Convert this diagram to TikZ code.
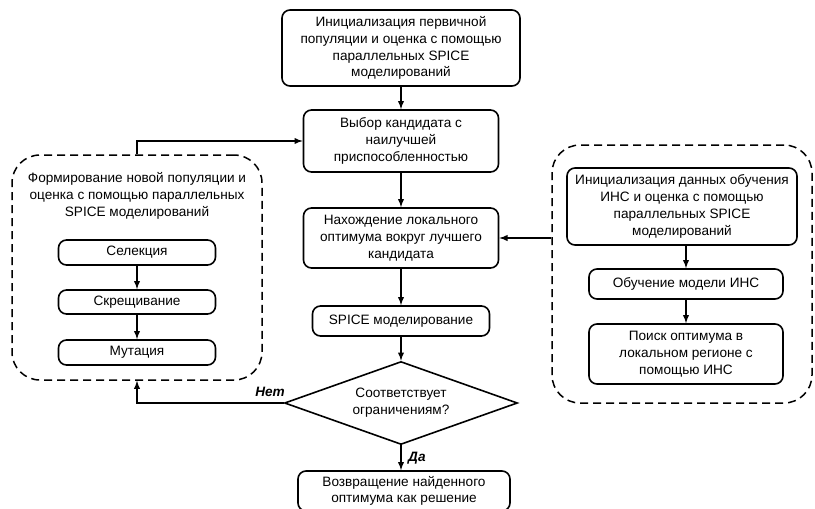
\documentclass[tikz,border=0pt]{standalone}
\usepackage{fontspec}
\setmainfont{Liberation Sans}
\usetikzlibrary{shapes.geometric}

\tikzset{
  box/.style={draw, rounded corners=8pt, line width=1.6pt, align=center, inner sep=0pt},
  group/.style={draw, rounded corners=28pt, line width=1.5pt, dash pattern=on 8pt off 5pt},
  flow/.style={->, >=latex, line width=1.8pt},
  answer/.style={font=\fontsize{13.6}{16}\selectfont\bfseries\itshape, inner sep=0pt}
}

\begin{document}
\begin{tikzpicture}[x=1pt, y=-1pt, font=\fontsize{13.6}{16.8}\selectfont]
\useasboundingbox (0,0) rectangle (815,509);

\node[box, minimum width=238pt, minimum height=76pt] (init) at (401,48) {Инициализация первичной\\популяции и оценка с помощью\\параллельных SPICE\\моделирований};
\node[box, minimum width=195pt, minimum height=62pt] (choose) at (401,141) {Выбор кандидата с\\наилучшей\\приспособленностью};
\node[box, minimum width=195pt, minimum height=60pt] (local) at (401,238) {Нахождение локального\\оптимума вокруг лучшего\\кандидата};
\node[box, minimum width=177pt, minimum height=30pt] (spice) at (401,321) {SPICE моделирование};
\node[diamond, draw, line width=1.6pt, align=center, inner sep=0pt, minimum width=233pt, minimum height=83pt, aspect=2.8] (check) at (401,403) {Соответствует\\ограничениям?};
\node[box, minimum width=212pt, minimum height=40pt, font=\fontsize{13.6}{16}\selectfont] (result) at (404,491) {Возвращение найденного\\оптимума как решение};

% left group
\node[group, minimum width=250pt, minimum height=225pt] (grp1) at (137,267.5) {};
\node[align=center] (title1) at (137,196) {Формирование новой популяции и\\оценка с помощью параллельных\\SPICE моделирований};
\node[box, minimum width=157pt, minimum height=25pt] (sel) at (137,252.5) {Селекция};
\node[box, minimum width=157pt, minimum height=24pt] (cross) at (137,302) {Скрещивание};
\node[box, minimum width=157pt, minimum height=25pt] (mut) at (137,352.5) {Мутация};

% right group
\node[group, minimum width=260pt, minimum height=258pt] (grp2) at (682,274) {};
\node[box, minimum width=230pt, minimum height=77pt] (trinit) at (682,206.5) {Инициализация данных обучения\\ИНС и оценка с помощью\\параллельных SPICE\\моделирований};
\node[box, minimum width=194pt, minimum height=30pt] (train) at (686,284) {Обучение модели ИНС};
\node[box, minimum width=194pt, minimum height=60pt] (search) at (686,354) {Поиск оптимума в\\локальном регионе с\\помощью ИНС};

\draw[flow] (init) -- (choose);
\draw[flow] (choose) -- (local);
\draw[flow] (local) -- (spice);
\draw[flow] (spice) -- (check);
\draw[flow] (check.south) -- (check.south |- result.north);
\draw[flow] (check.west) -| (grp1.south);
\draw[flow] (grp1.north) |- (choose.west);
\coordinate (g2in) at (grp2.west |- local.east);
\draw[flow] (g2in) -- (local.east);

\draw[flow] (sel) -- (cross);
\draw[flow] (cross) -- (mut);
\draw[flow] (trinit.south -| train.north) -- (train);
\draw[flow] (train) -- (search);

\node[answer, anchor=east] (no) at (285,392) {Нет};
\node[answer, anchor=west] (yes) at (408,458) {Да};
\end{tikzpicture}
\end{document}
